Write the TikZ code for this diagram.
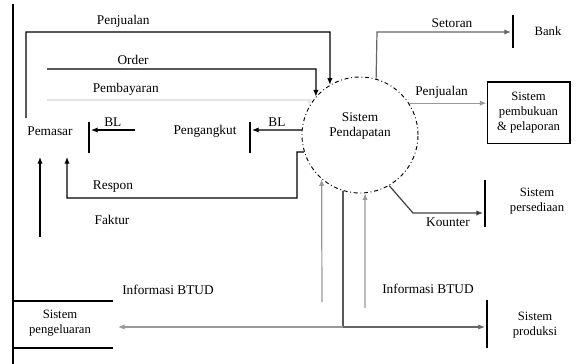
\documentclass[tikz,border=0pt]{standalone}
\usepackage{fontspec}
\setmainfont{Liberation Serif}
\usetikzlibrary{arrows.meta, positioning, calc}
\tikzstyle{flow} = [line width=0.9pt, -{Latex[length=5pt,width=4pt]}]
\tikzstyle{link} = [line width=0.9pt]
\tikzstyle{faint} = [draw=black!40]
\tikzstyle{bar} = [line width=1pt]
\tikzstyle{lbl} = [font=\fontsize{10}{11.5}\selectfont, inner sep=1pt]
\tikzstyle{ent} = [font=\fontsize{9.5}{11}\selectfont, align=center, inner sep=1pt]

\begin{document}
\begin{tikzpicture}[x=0.75pt, y=-0.75pt]
\useasboundingbox (0,0) rectangle (576,364);
\draw[line width=1.2pt] (13,4) -- (13,364);

% process and entities
\node[circle, draw, line width=0.7pt, dash dot, minimum size=87pt] (sp) at (360,135) {};
\node[lbl, align=center] (sptext) at (360,126) {Sistem\\Pendapatan};
\node[lbl] (pemasar) at (50,131) {Pemasar};
\node[lbl] (angkut) at (205,131) {Pengangkut};
\node[ent] (bank) at (548,31) {Bank};
\node[ent, draw, line width=1pt, minimum width=62pt, minimum height=46pt] (buku) at (528.5,112.5) {Sistem\\pembukuan\\\& pelaporan};
\node[ent] (pesan) at (537,201) {Sistem\\persediaan};
\node[ent] (produksi) at (535,325) {Sistem\\produksi};
\node[ent] (keluar) at (60,323) {Sistem\\pengeluaran};

% bars and store lines
\draw[bar] (513,15) -- (513,48);
\draw[bar] (485,180) -- (485,227);
\draw[bar] (487,300) -- (487,348);
\draw[bar] (250,122) -- (250,153);
\draw[bar] (89,122) -- (89,153);
\draw[bar] (13,301) -- (113,301);
\draw[bar] (13,348) -- (113,348);

% free ends
\coordinate (jual0) at (26,118);
\coordinate (order0) at (47,69);
\coordinate (bayar0) at (47,100);
\coordinate (faktur0) at (40,237);
\coordinate (info1) at (322,302);
\coordinate (info2) at (365,308);
\coordinate (cabang) at (343,327);

% flows
\draw[flow] (jual0) -- (26,32) -- node[lbl, above=2pt, pos=0.32] {Penjualan} (330,32) -- (sp.121);
\draw[flow] (order0) -- node[lbl, above=2pt, pos=0.32] {Order} (316,69) -- (sp.139);
\draw[flow, draw=black!10] (bayar0) -- node[lbl, above=2pt, pos=0.3, text=black] {Pembayaran} (sp.150 |- bayar0) -- (sp.150);
\draw[flow] (sp.175) -- node[lbl, above=1pt] {BL} (252,130);
\draw[flow] ([xshift=-28pt]angkut.west |- 0,130) -- node[lbl, above=1pt] {BL} (91,130);
\draw[flow] (sp.197) -- (297,152) -- (297,198) -- node[lbl, above=3pt, pos=0.8] {Respon} (67,198) -- (67,157);
\draw[flow] (faktur0) -- (40,157);
\node[lbl] (faktur) at (112,220) {Faktur};
\draw[flow, draw=black!60] (sp.74) -- (377,32) -- node[lbl, above=2pt, pos=0.56, text=black] {Setoran} (511,32);
\draw[flow, faint] (sp.33) -- node[lbl, above=2pt, pos=0.42, text=black] {Penjualan} (sp.33 -| buku.west);
\draw[flow, draw=black!75] (sp.-60) -- (413,213) -- node[lbl, below=2pt, text=black] {Kounter} (483,213);
\draw[flow, faint] (info1) -- (sp.-131);
\draw[flow, faint] (info2) -- (sp.-85);
\draw[link] (sp.-107) -- (cabang);
\draw[flow, faint] (cabang) -- (118,327);
\draw[flow, draw=black!60] (cabang) -- (485,327);
\node[lbl] (infokiri) at (168,290) {Informasi BTUD};
\node[lbl] (infokanan) at (428,289) {Informasi BTUD};
\end{tikzpicture}
\end{document}
